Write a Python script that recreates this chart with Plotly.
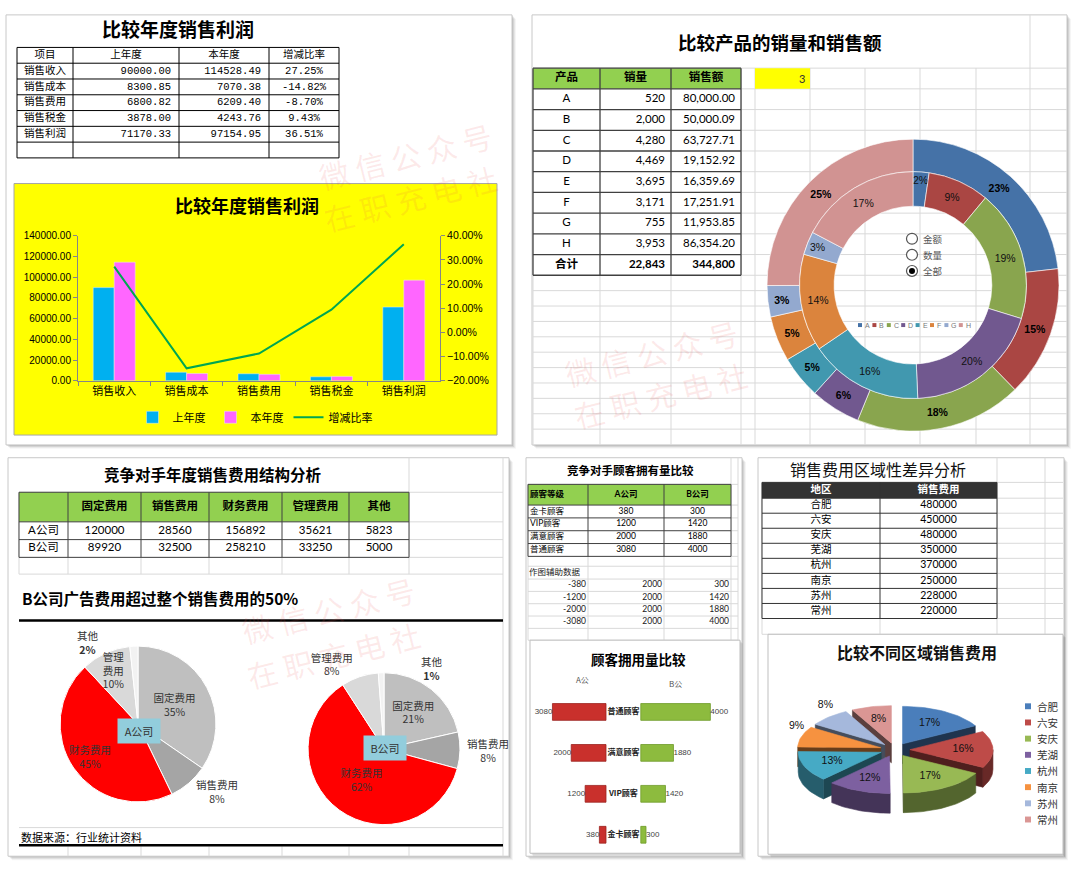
import math
import plotly.graph_objects as go

W, H = 1080, 877

# ===================== DATA =====================
profit_headers = ["项目", "上年度", "本年度", "增减比率"]
profit_items = ["销售收入", "销售成本", "销售费用", "销售税金", "销售利润"]
profit_last = [90000.00, 8300.85, 6800.82, 3878.00, 71170.33]
profit_this = [114528.49, 7070.38, 6209.40, 4243.76, 97154.95]
profit_rate = [0.2725, -0.1482, -0.0870, 0.0943, 0.3651]
profit_series = ["上年度", "本年度", "增减比率"]

product_headers = ["产品", "销量", "销售额"]
products = ["A", "B", "C", "D", "E", "F", "G", "H"]
product_qty = [520, 2000, 4280, 4469, 3695, 3171, 755, 3953]
product_amount = [80000.00, 50000.09, 63727.71, 19152.92, 16359.69, 17251.91, 11953.85, 86354.20]
product_total_label = "合计"
selector_value = 3
selector_options = ["金额", "数量", "全部"]

expense_types = ["固定费用", "销售费用", "财务费用", "管理费用", "其他"]
companies = ["A公司", "B公司"]
expense_a = [120000, 28560, 156892, 35621, 5823]
expense_b = [89920, 32500, 258210, 33250, 5000]

customer_headers = ["顾客等级", "A公司", "B公司"]
customer_levels = ["金卡顾客", "VIP顾客", "满意顾客", "普通顾客"]
customers_a = [380, 1200, 2000, 3080]
customers_b = [300, 1420, 1880, 4000]
customer_gap = [2000, 2000, 2000, 2000]
customer_helper_title = "作图辅助数据"
customer_short = ["A公", "B公"]

region_headers = ["地区", "销售费用"]
regions = ["合肥", "六安", "安庆", "芜湖", "杭州", "南京", "苏州", "常州"]
region_cost = [480000, 450000, 480000, 350000, 370000, 250000, 228000, 220000]

# ===================== STYLE =====================
C_PROD = ["#4572A7", "#AA4643", "#89A54E", "#71588F", "#4198AF", "#DB843D", "#93A9CF", "#D19392"]
C_EXP = ["#BFBFBF", "#A5A5A5", "#FF0000", "#D9D9D9", "#F2F2F2"]
C_REG = ["#4A7EBB", "#BE4B48", "#98B954", "#7D60A0", "#46AAC5", "#F69240", "#A5B8DC", "#DA9694"]
EXP_POS_A = ["inside", "outside", "none", "inside", "none"]
EXP_POS_B = ["inside", "outside", "inside", "outside", "none"]
EXP_LABEL_AT_A = {"财务费用": (90, 761), "其他": (88, 645)}
EXP_LABEL_AT_B = {"其他": (432, 672)}
REG_LABEL_OUT = [False, False, False, False, False, True, True, False]

CJK = "Noto Sans CJK SC"
SANS = "Lato, Noto Sans CJK SC"
ARIAL = "Liberation Sans, Noto Sans CJK SC"
MONO = "Liberation Mono, Noto Sans CJK SC"
GRID = "#D9D9D9"
GREEN_HDR = "#92D050"

fig = go.Figure()
shapes, annos = [], []


def X(px):
    return px / W


def Y(py):
    return 1 - py / H


def DX(a, b):
    return [X(a), X(b)]


def DY(top, bottom):
    return [Y(bottom), Y(top)]


def rect(x0, y0, x1, y1, fill="rgba(0,0,0,0)", line=None, lw=1, layer="below"):
    shapes.append(dict(type="rect", xref="paper", yref="paper", x0=X(x0), x1=X(x1),
                       y0=Y(y1), y1=Y(y0), fillcolor=fill, layer=layer,
                       line=dict(color=line if line else "rgba(0,0,0,0)", width=lw if line else 0)))


def circle(cx, cy, r, fill, line=None, lw=1, layer="above"):
    shapes.append(dict(type="circle", xref="paper", yref="paper", x0=X(cx - r), x1=X(cx + r),
                       y0=Y(cy + r), y1=Y(cy - r), fillcolor=fill, layer=layer,
                       line=dict(color=line if line else "rgba(0,0,0,0)", width=lw if line else 0)))


def seg(x0, y0, x1, y1, color, w=1, layer="below"):
    shapes.append(dict(type="line", xref="paper", yref="paper", x0=X(x0), x1=X(x1),
                       y0=Y(y0), y1=Y(y1), line=dict(color=color, width=w), layer=layer))


def panel(x0, y0, x1, y1, fill="white", border="#C8C8C8"):
    for off, a in [(4, 0.04), (3, 0.06), (2, 0.08), (1, 0.10)]:
        rect(x0 + off, y0 + off, x1 + off, y1 + off, fill=f"rgba(0,0,0,{a})")
    rect(x0, y0, x1, y1, fill=fill, line=border, lw=1)


def label(x, y, s, size=12, color="#000", family=CJK, xanchor="center", yanchor="middle", angle=0, **kw):
    annos.append(dict(x=X(x), y=Y(y), xref="paper", yref="paper", text=s, showarrow=False,
                      font=dict(size=size, color=color, family=family), xanchor=xanchor,
                      yanchor=yanchor, textangle=angle, **kw))


def cell_texts(xe, ye, columns, aligns, font, pad=6):
    """Write one block of cells (columns of values) on the sheet canvas axis."""
    xs, ys, ts, ps = [], [], [], []
    for j, col in enumerate(columns):
        al = aligns[j] if isinstance(aligns, list) else aligns
        for i, v in enumerate(col):
            yc = (ye[i] + ye[i + 1]) / 2
            if al == "left":
                xs.append(xe[j] + pad); ps.append("middle right")
            elif al == "right":
                xs.append(xe[j + 1] - pad); ps.append("middle left")
            else:
                xs.append((xe[j] + xe[j + 1]) / 2); ps.append("middle center")
            ys.append(yc)
            ts.append(str(v))
    fig.add_trace(go.Scatter(x=xs, y=ys, text=ts, mode="text", textposition=ps, textfont=font,
                             xaxis="x4", yaxis="y4", showlegend=False, hoverinfo="skip", cliponaxis=False))


def sheet(xe, ye, header, columns, halign, calign, hfont, cfont, hfill=None, cfill="white",
          line="#000", lw=1, pad=6):
    rect(xe[0], ye[0], xe[-1], ye[-1], fill=cfill)
    if hfill:
        rect(xe[0], ye[0], xe[-1], ye[1], fill=hfill)
    for x in xe:
        seg(x, ye[0], x, ye[-1], line, lw)
    for y in ye:
        seg(xe[0], y, xe[-1], y, line, lw)
    cell_texts(xe, ye[:2], [[h] for h in header], halign, hfont, pad)
    cell_texts(xe, ye[1:], columns, calign, cfont, pad)


# ===================== PANELS & GRIDS =====================
panel(6, 9, 512, 445)
panel(532, 9, 1067, 445)
panel(8, 458, 509, 862)
panel(526, 458, 742, 862)
panel(758, 458, 1064, 862)

rows_p2 = [63 + 21 * i for i in range(11)]
yy = 273 + 15.6
while yy < 444:
    rows_p2.append(yy)
    yy += 15.6
for yy in rows_p2:
    seg(533, yy, 1067, yy, GRID)
for xx in [533, 600, 671, 741, 755, 810, 865, 920, 976, 1030]:
    seg(xx, 63, xx, 445, GRID)
seg(1030, 9, 1030, 63, GRID)
rect(755, 63, 810, 84, fill="#FFFF00")

for yy in [493, 523, 541, 559, 576]:
    seg(19, yy, 503, yy, GRID)
for xx in [19, 68, 141, 209, 282, 349]:
    seg(xx, 493, xx, 576, GRID)
seg(409, 458, 409, 576, GRID)
seg(503, 458, 503, 862, GRID)
seg(19, 833, 503, 833, GRID)
for xx in [68, 141, 209, 282, 349, 409]:
    seg(xx, 852, xx, 862, GRID)

for yy in [485, 506, 519, 532, 545, 558, 568, 581, 593.5, 606, 618.5, 631, 643]:
    seg(528, yy, 738, yy, GRID)
for xx in [528, 588, 664]:
    seg(xx, 485, xx, 643, GRID)
for xx in [731, 738]:
    seg(xx, 458, xx, 643, GRID)

rows5 = [483, 499] + [499 + 15.25 * i for i in range(1, 9)] + [637]
for yy in rows5:
    seg(762, yy, 1063, yy, GRID)
for xx in [762, 880]:
    seg(xx, 483, xx, 637, GRID)
for xx in [997, 1045]:
    seg(xx, 458, xx, 637, GRID)

rect(14, 180, 497, 435, fill="#FFFF00", line="#A6A6A6", lw=1)
for off, a in [(3, 0.06), (2, 0.08), (1, 0.10)]:
    rect(530 + off, 643 + off, 740 + off, 859 + off, fill=f"rgba(0,0,0,{a})")
    rect(768 + off, 637 + off, 1063 + off, 860 + off, fill=f"rgba(0,0,0,{a})")
rect(530, 643, 740, 859, fill="white", line="#BFBFBF")
rect(768, 637, 1063, 860, fill="white", line="#BFBFBF")

# ===================== TABLES (sheet cells) =====================
sheet([17, 73, 179, 269, 339], [42 + 16 * i for i in range(8)], profit_headers,
      [profit_items + [""],
       [f"{v:.2f}" for v in profit_last] + [""],
       [f"{v:.2f}" for v in profit_this] + [""],
       [f"{r * 100:.2f}%" for r in profit_rate] + [""]],
      "center", ["center", "right", "right", "center"],
      dict(family=MONO, size=10.5, color="#000"), dict(family=MONO, size=10.5, color="#000"),
      line="#000", lw=1, pad=8)

sheet([533, 600, 671, 741], [63 + 21 * i for i in range(11)], [f"<b>{h}</b>" for h in product_headers],
      [products + [f"<b>{product_total_label}</b>"],
       [f"{v:,}" for v in product_qty] + [f"<b>{sum(product_qty):,}</b>"],
       [f"{v:,.2f}" for v in product_amount] + [f"<b>{sum(product_amount):,.0f}</b>"]],
      "center", ["center", "right", "right"],
      dict(family=SANS, size=11.5, color="#000"), dict(family=SANS, size=11.5, color="#000"),
      hfill=GREEN_HDR, line="#404040", lw=1.3, pad=6)

sheet([19, 68, 141, 209, 282, 349, 409], [493, 523, 541, 559], [""] + [f"<b>{t}</b>" for t in expense_types],
      [companies] + [[a, b] for a, b in zip(expense_a, expense_b)],
      "center", "center",
      dict(family=SANS, size=11.5, color="#000"), dict(family=SANS, size=11.5, color="#000"),
      hfill=GREEN_HDR, line="#404040", lw=1)

sheet([528, 588, 664, 731], [485, 506, 519, 532, 545, 558], [f"<b>{h}</b>" for h in customer_headers],
      [customer_levels, customers_a, customers_b],
      ["left", "center", "center"], ["left", "center", "center"],
      dict(family=SANS, size=8.5, color="#000"), dict(family=SANS, size=8.5, color="#000"),
      hfill=GREEN_HDR, line="#404040", lw=1, pad=2)

cell_texts([528, 588, 664, 731], [568, 581], [[customer_helper_title]], "left",
           dict(family=SANS, size=8.5, color="#222"), pad=1)
cell_texts([528, 588, 664, 731], [581, 593.5, 606, 618.5, 631],
           [[-v for v in customers_a], customer_gap, customers_b], "right",
           dict(family=SANS, size=8.5, color="#222"), pad=2)

sheet([762, 880, 997], [483, 499] + [499 + 15.25 * i for i in range(1, 9)],
      [f"<b>{h}</b>" for h in region_headers], [regions, region_cost],
      "center", "center",
      dict(family=SANS, size=10.5, color="white"), dict(family=SANS, size=10.5, color="#000"),
      hfill="#333333", line="#333333", lw=1)

seg(19, 623, 503, 623, "#000000", 2.5)
seg(19, 851, 503, 851, "#000000", 2.5)

# ===================== CHART 1: 比较年度销售利润 =====================
fig.add_trace(go.Bar(x=profit_items, y=profit_last, name=profit_series[0], marker_color="#00B0F0",
                     xaxis="x", yaxis="y", legend="legend", hoverinfo="skip"))
fig.add_trace(go.Bar(x=profit_items, y=profit_this, name=profit_series[1], marker_color="#FF66FF",
                     xaxis="x", yaxis="y", legend="legend", hoverinfo="skip"))
fig.add_trace(go.Scatter(x=profit_items, y=profit_rate, name=profit_series[2], mode="lines",
                         line=dict(color="#00A651", width=2), xaxis="x", yaxis="y2",
                         legend="legend", hoverinfo="skip"))

# ===================== DONUT =====================
DCX, DCY = 913, 283
fig.add_trace(go.Pie(labels=products, values=product_amount, sort=False, direction="clockwise",
                     rotation=0, hole=115 / 148, marker=dict(colors=C_PROD, line=dict(color="white", width=0.6)),
                     domain=dict(x=DX(DCX - 148, DCX + 148), y=DY(DCY - 148, DCY + 148)),
                     texttemplate="<b>%{percent:.0%}</b>", textposition="inside",
                     insidetextorientation="horizontal",
                     insidetextfont=dict(family=ARIAL, size=10.5, color="#000"),
                     showlegend=False, hoverinfo="skip"))
fig.add_trace(go.Pie(labels=products, values=product_qty, sort=False, direction="clockwise",
                     rotation=0, hole=80 / 115, marker=dict(colors=C_PROD, line=dict(color="white", width=0.6)),
                     domain=dict(x=DX(DCX - 115, DCX + 115), y=DY(DCY - 115, DCY + 115)),
                     texttemplate="%{percent:.0%}", textposition="inside",
                     insidetextorientation="horizontal",
                     insidetextfont=dict(family=ARIAL, size=10.5, color="#111"),
                     showlegend=False, hoverinfo="skip"))


# ===================== COMPANY PIES =====================
def exp_text(vals, pos):
    tot = sum(vals)
    out = []
    for name, v, p in zip(expense_types, vals, pos):
        pct = f"{round(v / tot * 100)}%"
        if p == "inside" and v / tot < 0.15:
            out.append(f"{name[:2]}<br>{name[2:]}<br>{pct}")
        else:
            out.append(f"{name}<br>{pct}")
    return out


for vals, pos, (cx, cy, r), manual in [(expense_a, EXP_POS_A, (138, 728, 79), EXP_LABEL_AT_A),
                                       (expense_b, EXP_POS_B, (384, 753, 77), EXP_LABEL_AT_B)]:
    fig.add_trace(go.Pie(labels=expense_types, values=vals, sort=False, direction="clockwise", rotation=0,
                         marker=dict(colors=C_EXP, line=dict(color="white", width=1)),
                         domain=dict(x=DX(cx - r, cx + r), y=DY(cy - r, cy + r)),
                         text=exp_text(vals, pos), textinfo="text", textposition=pos,
                         insidetextorientation="horizontal",
                         textfont=dict(family=CJK, size=10.5, color="#333"),
                         showlegend=False, hoverinfo="skip"))
    tot = sum(vals)
    for name, v in zip(expense_types, vals):
        if name in manual:
            pct = f"{round(v / tot * 100)}%"
            txt = f"{name}<br><b>{pct}</b>" if name == expense_types[-1] else f"{name}<br>{pct}"
            label(manual[name][0], manual[name][1], txt, size=10.5, color="#333")

# ===================== CUSTOMER BARS =====================
fig.add_trace(go.Bar(y=customer_levels, x=[-v for v in customers_a], orientation="h", width=0.41, offset=-0.205,
                     marker=dict(color="#C9302C", line=dict(color="#9B2320", width=0.8)),
                     xaxis="x3", yaxis="y3", showlegend=False, hoverinfo="skip"))
fig.add_trace(go.Bar(y=customer_levels, x=customers_b, base=customer_gap, orientation="h", width=0.41, offset=-0.205,
                     marker=dict(color="#8DBB3E", line=dict(color="#6F9A2A", width=0.8)),
                     xaxis="x3", yaxis="y3", showlegend=False, hoverinfo="skip"))
fig.add_trace(go.Scatter(y=customer_levels, x=[-v for v in customers_a], mode="text",
                         text=[str(v) for v in customers_a], textposition="middle left",
                         textfont=dict(family=ARIAL, size=8, color="#444"),
                         xaxis="x3", yaxis="y3", showlegend=False, hoverinfo="skip", cliponaxis=False))
fig.add_trace(go.Scatter(y=customer_levels, x=[g + v for g, v in zip(customer_gap, customers_b)], mode="text",
                         text=[str(v) for v in customers_b], textposition="middle right",
                         textfont=dict(family=ARIAL, size=8, color="#444"),
                         xaxis="x3", yaxis="y3", showlegend=False, hoverinfo="skip", cliponaxis=False))
fig.add_trace(go.Scatter(y=customer_levels, x=[g / 2 for g in customer_gap], mode="text",
                         text=[f"<b>{c}</b>" for c in customer_levels], textposition="middle center",
                         textfont=dict(family=CJK, size=8, color="#222"),
                         xaxis="x3", yaxis="y3", showlegend=False, hoverinfo="skip", cliponaxis=False))


# ===================== 3D EXPLODED PIE =====================
def shade(hexc, f):
    h = hexc.lstrip("#")
    r, g, b = int(h[0:2], 16), int(h[2:4], 16), int(h[4:6], 16)
    return f"rgb({int(r * f)},{int(g * f)},{int(b * f)})"


P3 = dict(cx=895, cy=754, rx=83, ry=38, depth=20, explode=0.18, lift=10)


def pie3d(values, colors, outside):
    cx, cy, rx, ry, d, e = P3["cx"], P3["cy"], P3["rx"], P3["ry"], P3["depth"], P3["explode"]
    tot = sum(values)
    sl = []
    acc = 0
    for v, c, o in zip(values, colors, outside):
        a0 = acc / tot * 2 * math.pi
        acc += v
        a1 = acc / tot * 2 * math.pi
        sl.append((a0, a1, v, c, o))

    def pt(t, ox, oy, dz=0.0):
        return cx + ox + rx * math.sin(t), cy + oy - ry * math.cos(t) + dz

    def arc(t0, t1, ox, oy, dz=0.0):
        n = max(3, int((t1 - t0) / (2 * math.pi) * 160))
        return [pt(t0 + (t1 - t0) * k / n, ox, oy, dz) for k in range(n + 1)]

    def poly(pts, color):
        xs = [p[0] for p in pts] + [pts[0][0]]
        ys = [p[1] for p in pts] + [pts[0][1]]
        fig.add_trace(go.Scatter(x=xs, y=ys, mode="lines", fill="toself", fillcolor=color,
                                 line=dict(color=color, width=0.6), xaxis="x4", yaxis="y4",
                                 showlegend=False, hoverinfo="skip"))

    order = sorted(range(len(sl)), key=lambda i: -math.cos((sl[i][0] + sl[i][1]) / 2))
    for i in order:
        a0, a1, v, c, o = sl[i]
        am = (a0 + a1) / 2
        ox, oy = e * rx * math.sin(am), -e * ry * math.cos(am)
        ctop = (cx + ox, cy + oy)
        cbot = (cx + ox, cy + oy + d)
        for t, vis in [(a0, math.sin(a0) < -1e-6), (a1, math.sin(a1) > 1e-6)]:
            if vis:
                poly([ctop, pt(t, ox, oy), pt(t, ox, oy, d), cbot], shade(c, 0.42))
        lo, hi = max(a0, math.pi / 2), min(a1, 3 * math.pi / 2)
        if lo < hi:
            top = arc(lo, hi, ox, oy)
            bot = arc(lo, hi, ox, oy, d)
            poly(top + bot[::-1], shade(c, 0.55))
        poly([ctop] + arc(a0, a1, ox, oy), c)
    lx, ly, lt = [], [], []
    for a0, a1, v, c, o in sl:
        am = (a0 + a1) / 2
        rr = 1.06 if o else 0.64
        lx.append(cx + math.sin(am) * (rr * rx + e * rx))
        ly.append(cy - math.cos(am) * (rr * ry + e * ry) - (P3["lift"] if o else 0))
        lt.append(f"{round(v / tot * 100)}%")
    fig.add_trace(go.Scatter(x=lx, y=ly, mode="text", text=lt, textposition="middle center",
                             textfont=dict(family=ARIAL, size=10.5, color="#111"),
                             xaxis="x4", yaxis="y4", showlegend=False, hoverinfo="skip", cliponaxis=False))


pie3d(region_cost, C_REG, REG_LABEL_OUT)

# ===================== TEXTS =====================
label(178, 23, "<b>比较年度销售利润</b>", size=19)
label(247, 202, "<b>比较年度销售利润</b>", size=18)
label(780, 36, "<b>比较产品的销量和销售额</b>", size=18.5)
label(807, 74, str(selector_value), size=11, color="#333", family=SANS, xanchor="right")
label(213, 474, "<b>竞争对手年度销售费用结构分析</b>", size=15.5)
label(20, 600, "<b>B公司广告费用超过整个销售费用的50%</b>", size=15.5, xanchor="left")
label(19, 843, "数据来源：行业统计资料", size=11, xanchor="left")
label(630, 470, "<b>竞争对手顾客拥有量比较</b>", size=11.5)
label(638, 662, "<b>顾客拥用量比较</b>", size=13.5)
label(582, 683, customer_short[0], size=8, color="#555")
label(675, 687, customer_short[1], size=8, color="#555")
label(878, 469, "销售费用区域性差异分析", size=16, color="#111")
label(917, 655, "<b>比较不同区域销售费用</b>", size=16, color="#111")

for txt, (bx, by) in zip(companies, [(139, 735), (385, 752)]):
    annos.append(dict(x=X(bx), y=Y(by), xref="paper", yref="paper", text=txt, showarrow=False,
                      font=dict(size=11, color="#333", family=CJK), bgcolor="#92CDDC",
                      borderpad=5, width=32, height=14, xanchor="center", yanchor="middle"))

for i, opt in enumerate(selector_options):
    cyr = 236 + 16.3 * i
    circle(912, cyr, 5.5, "white", line="#555", lw=1.2)
    if i == selector_value - 1:
        circle(912, cyr, 3, "#000")
    label(921, cyr, opt, size=9.5, color="#555", xanchor="left")

for i, (p, c) in enumerate(zip(products, C_PROD)):
    x0 = 860 + 14.4 * i
    rect(x0 - 2, 321.5, x0 + 2, 325.5, fill=c, layer="above")
    label(x0 + 3, 323.5, p, size=7, color="#777", family=ARIAL, xanchor="left")

for i, (rg, c) in enumerate(zip(regions, C_REG)):
    yy = 710 + 16.4 * i
    rect(1025, yy - 3, 1031, yy + 3, fill=c, layer="above")
    label(1035, yy, rg, size=10.5, color="#333", xanchor="left")

WM = "rgba(235,80,80,0.12)"
for (x1, y1), (x2, y2) in [((405, 152), (410, 195)), ((651, 352), (660, 394)), ((328, 612), (333, 658))]:
    label(x1, y1, "微 信 公 众 号", size=30, color=WM, angle=-14)
    label(x2, y2, "在 职 充 电 社", size=30, color=WM, angle=-14)

# ===================== LAYOUT =====================
axis_common = dict(showgrid=False, zeroline=False, fixedrange=True)
fig.update_layout(
    width=W, height=H, margin=dict(l=0, r=0, t=0, b=0),
    paper_bgcolor="white", plot_bgcolor="rgba(0,0,0,0)",
    barmode="group", bargap=0.42, bargroupgap=0,
    uniformtext=dict(minsize=10.5, mode="show"),
    shapes=shapes, annotations=annos,
    xaxis=dict(domain=DX(78, 440), anchor="y", type="category", range=[-0.5, 4.5],
               showline=True, linecolor="#868686", ticks="outside", tickson="boundaries",
               ticklen=4, tickcolor="#868686", tickfont=dict(size=11, family=CJK, color="#000"), **axis_common),
    yaxis=dict(domain=DY(233, 380), anchor="x", range=[0, 140000], dtick=20000, tickformat=".2f",
               showline=True, linecolor="#868686", ticks="outside", ticklen=4, tickcolor="#868686",
               tickfont=dict(size=10, family=ARIAL, color="#000"), **axis_common),
    yaxis2=dict(overlaying="y", side="right", anchor="x", range=[-0.2, 0.4], dtick=0.1, tickformat=".2%",
                showline=True, linecolor="#868686", ticks="outside", ticklen=4, tickcolor="#868686",
                tickfont=dict(size=10.5, family=ARIAL, color="#000"), **axis_common),
    xaxis3=dict(domain=DX(540, 735), anchor="y3", range=[-3795, 7417], visible=False, **axis_common),
    yaxis3=dict(domain=DY(695, 861), anchor="x3", type="category", range=[-0.5, 3.5], visible=False, **axis_common),
    xaxis4=dict(domain=[0, 1], anchor="y4", range=[0, W], visible=False, **axis_common),
    yaxis4=dict(domain=[0, 1], anchor="x4", range=[H, 0], visible=False, **axis_common),
    legend=dict(orientation="h", x=X(255), xanchor="center", y=Y(417), yanchor="middle",
                font=dict(size=11, family=CJK, color="#000"), bgcolor="rgba(0,0,0,0)",
                traceorder="normal", itemwidth=30),
)

fig.write_html("out.html", config={"displayModeBar": False},
               post_script="document.body.style.margin='0';document.body.style.overflow='hidden';")
